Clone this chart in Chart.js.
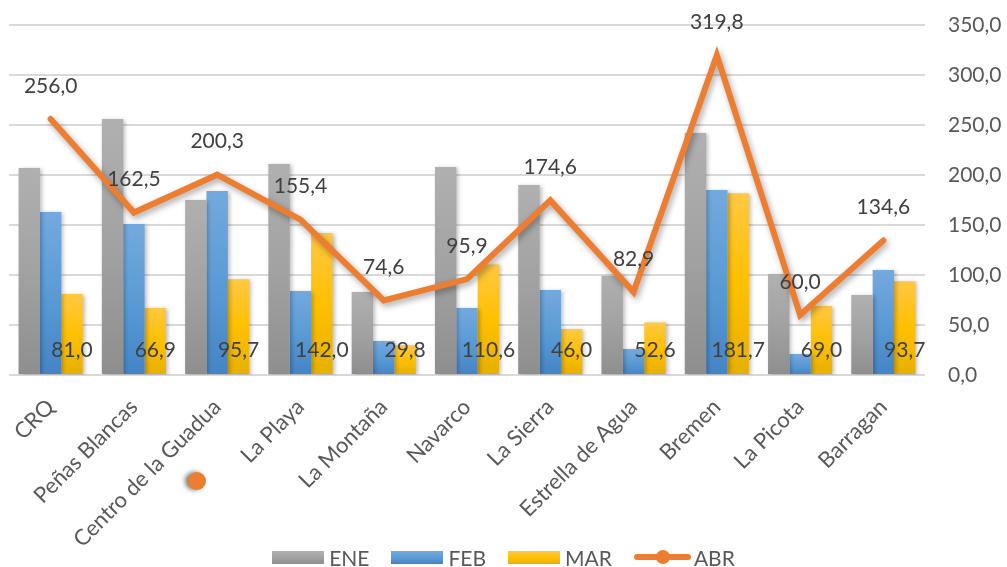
<!DOCTYPE html>
<html><head><meta charset="utf-8">
<script src="https://cdn.jsdelivr.net/npm/chart.js@4"></script>
<style>
html,body{margin:0;padding:0;background:#fff;}
#wrap{position:relative;width:1007px;height:567px;overflow:hidden;}
#legend{position:absolute;left:0;width:1007px;top:547px;height:20px;display:flex;justify-content:center;align-items:center;font-family:Lato,"Open Sans",sans-serif;font-size:21px;color:#595959;}
.li{display:flex;align-items:center;margin:0 11px;}
.box{width:52px;height:13px;margin-right:5px;}
.lineSym{position:relative;width:57px;height:13px;margin-right:3px;}
.lineSym:before{content:"";position:absolute;left:0;right:0;top:3px;height:6px;border-radius:3px;background:#ED7D31;}
.lineSym:after{content:"";position:absolute;left:22px;top:-1px;width:14px;height:14px;border-radius:50%;background:#ED7D31;}
#dot{position:absolute;left:188px;top:472px;width:18px;height:18px;border-radius:50%;background:#ED7D31;box-shadow:-3px 0 5px rgba(0,0,0,0.55);}
</style>
</head><body>
<div id="wrap">
<canvas id="c" width="1007" height="567"></canvas>
<div id="dot"></div>
<div id="legend"></div>
</div>
<script>
const categories = ["CRQ","Peñas Blancas","Centro de la Guadua","La Playa","La Montaña","Navarco","La Sierra","Estrella de Agua","Bremen","La Picota","Barragan"];
const ENE = [207,256,175,211,83,208,190,99,242,101,80];
const FEB = [163,151,184,84,34,67,85,26,185,21,105];
const MAR = [81.0,66.9,95.7,142.0,29.8,110.6,46.0,52.6,181.7,69.0,93.7];
const ABR = [256.0,162.5,200.3,155.4,74.6,95.9,174.6,82.9,319.8,60.0,134.6];
const yTicks = [0,50,100,150,200,250,300,350];

const FONT = 'Lato, "Open Sans", sans-serif';
const FS = 21;
const fmt = v => v.toFixed(1).replace('.', ',');

const colors = {
  ENE: ['#b0b0b0', '#a2a2a2', '#8e8e8e'],
  FEB: ['#74a9de', '#5b9bd5', '#4484c5'],
  MAR: ['#ffc843', '#ffc000', '#e6b000']
};
function grad(stops){
  return (c) => {
    const chart = c.chart;
    if (!chart.chartArea || c.type !== 'data') return stops[1];
    const ys = chart.scales.y;
    const top = ys.getPixelForValue(c.parsed.y);
    const base = ys.getPixelForValue(0);
    if (!isFinite(top) || base - top < 1) return stops[1];
    const g = chart.ctx.createLinearGradient(0, top, 0, base);
    g.addColorStop(0, stops[0]);
    g.addColorStop(0.5, stops[1]);
    g.addColorStop(1, stops[2]);
    return g;
  };
}

const shadowPlugin = {
  id: 'shadows',
  beforeDatasetDraw(chart, args){
    const ctx = chart.ctx;
    ctx.save();
    if (args.meta.type === 'line') {
      ctx.shadowColor = 'rgba(0,0,0,0.35)';
      ctx.shadowBlur = 6; ctx.shadowOffsetX = 2; ctx.shadowOffsetY = 3;
    } else {
      ctx.shadowColor = 'rgba(0,0,0,0.25)';
      ctx.shadowBlur = 4; ctx.shadowOffsetX = 2; ctx.shadowOffsetY = 1;
    }
  },
  afterDatasetDraw(chart){ chart.ctx.restore(); }
};

const labelPlugin = {
  id: 'valueLabels',
  afterDatasetsDraw(chart){
    const ctx = chart.ctx;
    const ys = chart.scales.y;
    ctx.save();
    ctx.font = FS + 'px ' + FONT;
    ctx.fillStyle = '#404040';
    ctx.textAlign = 'center';
    ctx.textBaseline = 'middle';
    const base = ys.getPixelForValue(0);
    chart.getDatasetMeta(2).data.forEach((el, i) => ctx.fillText(fmt(MAR[i]), el.x, base - 25));
    chart.getDatasetMeta(3).data.forEach((el, i) => ctx.fillText(fmt(ABR[i]), el.x, el.y - 33));
    ctx.restore();
  }
};

new Chart(document.getElementById('c'), {
  type: 'bar',
  data: {
    labels: categories,
    datasets: [
      { label: 'ENE', data: ENE, backgroundColor: grad(colors.ENE), order: 1 },
      { label: 'FEB', data: FEB, backgroundColor: grad(colors.FEB), order: 1 },
      { label: 'MAR', data: MAR, backgroundColor: grad(colors.MAR), order: 1 },
      { label: 'ABR', type: 'line', data: ABR, borderColor: '#ED7D31', backgroundColor: '#ED7D31',
        borderWidth: 6, pointRadius: 0, pointHoverRadius: 0, tension: 0,
        borderCapStyle: 'round', borderJoinStyle: 'miter', order: 0 }
    ]
  },
  options: {
    responsive: false,
    animation: false,
    events: [],
    layout: { padding: { left: 9, top: 25, right: 0, bottom: 20 } },
    datasets: { bar: { barPercentage: 1, categoryPercentage: 0.77 } },
    plugins: { legend: { display: false }, tooltip: { enabled: false } },
    scales: {
      x: {
        grid: { display: false, drawTicks: false },
        border: { display: false },
        ticks: { autoSkip: false, minRotation: 45, maxRotation: 45, padding: 19,
                 color: '#595959', font: { family: FONT, size: 22 } },
        afterFit(s){ s.height = 172; s.paddingLeft = 0; s.paddingRight = 0; }
      },
      y: {
        position: 'right',
        min: 0, max: 350,
        afterBuildTicks(s){ s.ticks = yTicks.map(v => ({ value: v })); },
        grid: { color: '#d9d9d9', lineWidth: 2, drawTicks: false },
        border: { display: false },
        ticks: { padding: 23, color: '#595959', font: { family: FONT, size: FS }, callback: v => fmt(v) },
        afterFit(s){ s.width = 82; s.paddingTop = 12; s.paddingBottom = 12; }
      }
    }
  },
  plugins: [shadowPlugin, labelPlugin]
});

// legend
const legend = document.getElementById('legend');
const legendItems = [
  { name: 'ENE', c: colors.ENE }, { name: 'FEB', c: colors.FEB }, { name: 'MAR', c: colors.MAR }, { name: 'ABR', line: true }
];
legendItems.forEach(it => {
  const d = document.createElement('div'); d.className = 'li';
  const s = document.createElement('div');
  if (it.line) { s.className = 'lineSym'; }
  else { s.className = 'box'; s.style.background = `linear-gradient(${it.c[0]}, ${it.c[1]} 50%, ${it.c[2]})`; }
  const t = document.createElement('span'); t.textContent = it.name;
  d.appendChild(s); d.appendChild(t); legend.appendChild(d);
});
</script>
</body></html>
